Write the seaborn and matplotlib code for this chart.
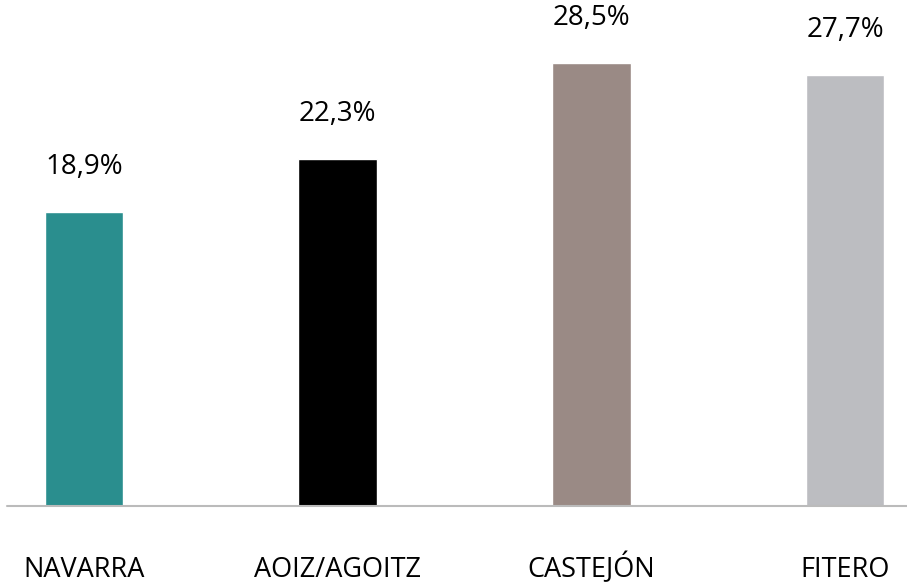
import matplotlib
matplotlib.use("Agg")
import matplotlib.pyplot as plt
import seaborn as sns
import pandas as pd

# datos del gráfico
municipios = ["NAVARRA", "AOIZ/AGOITZ", "CASTEJÓN", "FITERO"]
valores = [18.9, 22.3, 28.5, 27.7]
etiquetas = ["18,9%", "22,3%", "28,5%", "27,7%"]
colores = ["#2a8e8e", "#000000", "#9a8a85", "#bcbdc1"]

sns.set_style("white")
plt.rcParams['font.family'] = ['Open Sans', 'DejaVu Sans']

df = pd.DataFrame({"municipio": municipios, "valor": valores})

fig = plt.figure(figsize=(9.07, 5.87), dpi=100)
ax = fig.add_axes([0, 81 / 587, 1, 506 / 587])

sns.barplot(data=df, x="municipio", y="valor", hue="municipio", palette=colores,
            width=0.31, legend=False, ax=ax, saturation=1)

ax.set_xlim(-0.331, 3.244)
ax.set_ylim(0, 32.55)
ax.axhline(0, xmin=0.008, xmax=1, color="#bbbbbb", lw=1.5, clip_on=False)

for i, (v, t) in enumerate(zip(valores, etiquetas)):
    ax.annotate(t, (i, v), xytext=(0, 45), textcoords="offset pixels",
                ha="center", va="center", fontsize=20, color="black")

sns.despine(ax=ax, left=True, bottom=True)
ax.set_yticks([])
ax.set_xlabel("")
ax.set_ylabel("")
ax.tick_params(axis="x", length=0, pad=51, labelsize=19.5, labelcolor="black")
for lab in ax.get_xticklabels():
    lab.set_va("baseline")

fig.savefig("out.png", dpi=100)
